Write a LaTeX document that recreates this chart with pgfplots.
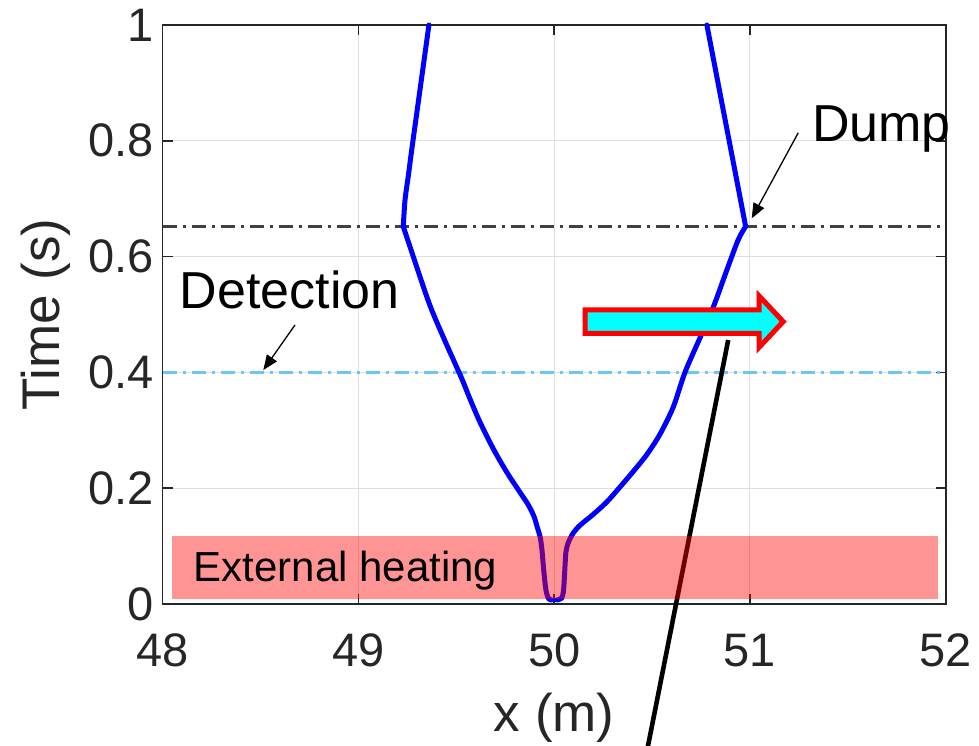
\documentclass[border=0pt]{standalone}
\usepackage{fontspec}
\setmainfont{Liberation Sans}
\usepackage{pgfplots}
\pgfplotsset{compat=1.18}
\usetikzlibrary{arrows.meta}
\definecolor{axgray}{HTML}{262626}
\definecolor{detcol}{HTML}{6CC6EE}
\definecolor{dumpcol}{HTML}{404040}
\definecolor{mycyan}{RGB}{0,255,255}
\definecolor{myred}{RGB}{255,0,0}
\definecolor{myblue}{RGB}{0,0,255}
\begin{document}
\begin{tikzpicture}
\useasboundingbox (-81.35pt,-70.5pt) rectangle (408.15pt,302pt);
\begin{axis}[
 at={(0,0)}, anchor=south west,
 width=391.5pt, height=289.5pt, scale only axis,
 xmin=48,xmax=52,ymin=0,ymax=1,
 xtick={48,49,50,51,52}, ytick={0,0.2,0.4,0.6,0.8,1},
 grid=major, grid style={gray!25, line width=0.5pt},
 axis line style={axgray, line width=0.8pt},
 tick style={axgray, line width=0.8pt},
 major tick length=5pt, tick align=inside,
 /pgf/number format/assume math mode=true,
 tick label style={font=\fontsize{23.5}{28}\selectfont, text=axgray},
 xticklabel style={anchor=base, yshift=-31.35pt},
 yticklabel style={xshift=-1pt},
 xlabel={x (m)}, ylabel={Time (s)},
 label style={font=\fontsize{26.5}{32}\selectfont, text=axgray},
 xlabel style={at={(axis cs:50,-0.2204)}, anchor=base},
 ylabel style={at={(axis cs:47.475,0.5)}, anchor=base},
 clip=false,
]
% dump and detection lines
\addplot[dumpcol, line width=1.3pt, dash pattern=on 7pt off 3pt on 1.5pt off 3pt] coordinates {(48,0.652) (52,0.652)};
\addplot[detcol, line width=1.3pt, dash pattern=on 7pt off 3pt on 1.5pt off 3pt] coordinates {(48,0.4) (52,0.4)};
% left front (before dump)
\addplot[myblue, line width=2.5pt, line cap=round, smooth, tension=0.5] coordinates {
(49.987,0.007) (49.972,0.009) (49.960,0.020) (49.952,0.040) (49.945,0.064)
(49.937,0.095) (49.928,0.116) (49.914,0.132) (49.897,0.151) (49.868,0.171)
(49.825,0.193) (49.757,0.228) (49.689,0.268) (49.621,0.314) (49.570,0.354)
(49.527,0.390) (49.445,0.452) (49.366,0.515) (49.295,0.585) (49.229,0.652)
};
% left front (after dump)
\addplot[myblue, line width=2.5pt, line cap=round, smooth, tension=0.5] coordinates {
(49.229,0.652) (49.238,0.698) (49.255,0.740) (49.272,0.784) (49.316,0.892) (49.360,1.000)
};
% right front (before dump)
\addplot[myblue, line width=2.5pt, line cap=round, smooth, tension=0.5] coordinates {
(50.013,0.007) (50.038,0.010) (50.048,0.025) (50.055,0.064) (50.060,0.090)
(50.072,0.106) (50.098,0.123) (50.132,0.136) (50.200,0.155) (50.268,0.176)
(50.336,0.202) (50.404,0.229) (50.473,0.258) (50.540,0.293) (50.608,0.340)
(50.668,0.400) (50.740,0.456) (50.813,0.513) (50.880,0.575) (50.940,0.629)
(50.978,0.652)
};
% right front (after dump)
\addplot[myblue, line width=2.5pt, line cap=round] coordinates {(50.978,0.652) (50.780,1.000)};
% long black line
\addplot[black, line width=2.3pt] coordinates {(50.889,0.456) (50.460,-0.278)};
% external heating band
\addplot[draw=none, fill=myred, fill opacity=0.42] coordinates {(48.049,0.008) (51.959,0.008) (51.959,0.117) (48.049,0.117)} -- cycle;
% block arrow
\draw[myred, line width=2.5pt, fill=mycyan, line join=miter]
 (axis cs:50.158,0.5081) -- (axis cs:51.047,0.5081) -- (axis cs:51.047,0.5320)
 -- (axis cs:51.170,0.4877) -- (axis cs:51.047,0.4434) -- (axis cs:51.047,0.4672)
 -- (axis cs:50.158,0.4672) -- cycle;
% annotation arrows
\draw[black, line width=0.65pt, -{Triangle[length=7.5pt,width=6pt]}] (axis cs:51.247,0.814) -- (axis cs:51.009,0.666);
\draw[black, line width=0.65pt, -{Triangle[length=7.5pt,width=6pt]}] (axis cs:48.676,0.482) -- (axis cs:48.514,0.404);
% texts
\node[anchor=base west, inner sep=0pt, font=\fontsize{26}{31}\selectfont] at (axis cs:51.316,0.798) {Dump};
\node[anchor=base west, inner sep=0pt, font=\fontsize{26}{31}\selectfont] at (axis cs:48.085,0.511) {Detection};
\node[anchor=base west, inner sep=0pt, font=\fontsize{21}{25}\selectfont] at (axis cs:48.156,0.0385) {External heating};
\end{axis}
\end{tikzpicture}
\end{document}
